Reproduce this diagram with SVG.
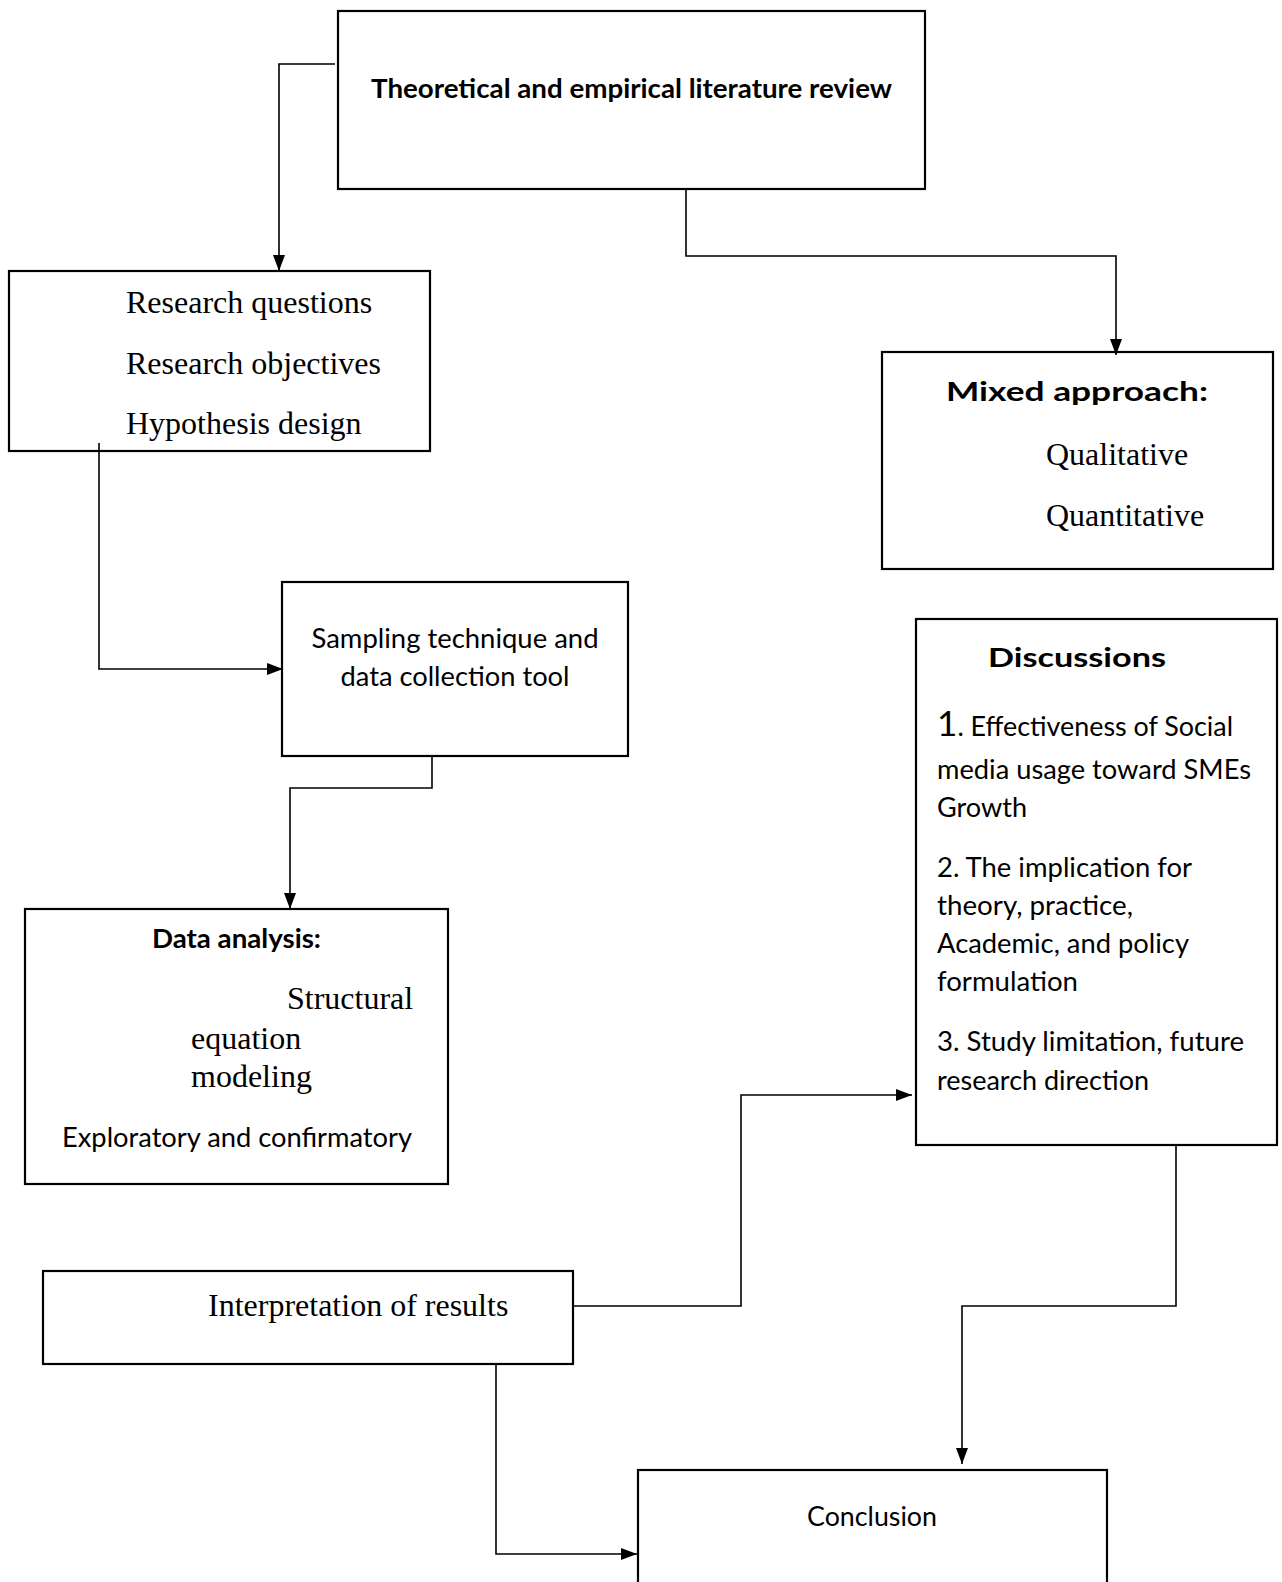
<svg xmlns="http://www.w3.org/2000/svg" width="1282" height="1582" viewBox="0 0 1282 1582">
<style>
.box{fill:#fff;stroke:#000;stroke-width:2.2}
.con{fill:none;stroke:#000;stroke-width:1.6}
.serif{font-family:"Liberation Serif","Times New Roman",serif;font-size:32px;fill:#000}
.sans{font-family:Lato,"Open Sans",sans-serif;font-size:26px;fill:#000}
.bold{font-weight:bold}
</style>
<defs>
<marker id="arr" viewBox="0 0 16 12" refX="16" refY="6" markerWidth="16" markerHeight="12" markerUnits="userSpaceOnUse" orient="auto">
<path d="M0,0 L16,6 L0,12 Z" fill="#000"/>
</marker>
</defs>
<rect width="1282" height="1582" fill="#fff"/>
<g id="lit-review">
<rect class="box" x="338" y="11" width="587" height="178"/>
<text class="sans bold" x="371" y="98" font-size="24" textLength="521" lengthAdjust="spacingAndGlyphs">Theoretical and empirical literature review</text>
</g>
<g id="research">
<rect class="box" x="9" y="271" width="421" height="180"/>
<text class="serif" x="126" y="313">Research questions</text>
<text class="serif" x="126" y="374">Research objectives</text>
<text class="serif" x="126" y="434">Hypothesis design</text>
</g>
<g id="mixed">
<rect class="box" x="882" y="352" width="391" height="217"/>
<text class="sans bold" x="946" y="401" font-size="34" textLength="262" lengthAdjust="spacingAndGlyphs">Mixed approach:</text>
<text class="serif" x="1046" y="465">Qualitative</text>
<text class="serif" x="1046" y="526">Quantitative</text>
</g>
<g id="sampling">
<rect class="box" x="282" y="582" width="346" height="174"/>
<text class="sans" x="455" y="648" text-anchor="middle" textLength="287" lengthAdjust="spacingAndGlyphs">Sampling technique and</text>
<text class="sans" x="455" y="686" text-anchor="middle" textLength="229" lengthAdjust="spacingAndGlyphs">data collection tool</text>
</g>
<g id="data-analysis">
<rect class="box" x="25" y="909" width="423" height="275"/>
<text class="sans bold" x="152" y="948" font-size="24" textLength="169" lengthAdjust="spacingAndGlyphs">Data analysis:</text>
<text class="serif" x="287" y="1009">Structural</text>
<text class="serif" x="191" y="1049">equation</text>
<text class="serif" x="191" y="1087">modeling</text>
<text class="sans" x="62" y="1147" textLength="350" lengthAdjust="spacingAndGlyphs">Exploratory and confirmatory</text>
</g>
<g id="discussions">
<rect class="box" x="916" y="619" width="361" height="526"/>
<text class="sans bold" x="988" y="667" font-size="34" textLength="178" lengthAdjust="spacingAndGlyphs">Discussions</text>
<text class="sans" x="937" y="736" textLength="296" lengthAdjust="spacingAndGlyphs"><tspan font-size="34">1</tspan>. Effectiveness of Social</text>
<text class="sans" x="937" y="779" textLength="314" lengthAdjust="spacingAndGlyphs">media usage toward SMEs</text>
<text class="sans" x="937" y="817" textLength="90" lengthAdjust="spacingAndGlyphs">Growth</text>
<text class="sans" x="937" y="877" textLength="255" lengthAdjust="spacingAndGlyphs">2. The implication for</text>
<text class="sans" x="937" y="915" textLength="196" lengthAdjust="spacingAndGlyphs">theory, practice,</text>
<text class="sans" x="937" y="953" textLength="252" lengthAdjust="spacingAndGlyphs">Academic, and policy</text>
<text class="sans" x="937" y="991" textLength="141" lengthAdjust="spacingAndGlyphs">formulation</text>
<text class="sans" x="937" y="1051" textLength="307" lengthAdjust="spacingAndGlyphs">3. Study limitation, future</text>
<text class="sans" x="937" y="1090" textLength="212" lengthAdjust="spacingAndGlyphs">research direction</text>
</g>
<g id="interpretation">
<rect class="box" x="43" y="1271" width="530" height="93"/>
<text class="serif" x="208" y="1316">Interpretation of results</text>
</g>
<g id="conclusion">
<rect class="box" x="638" y="1470" width="469" height="130"/>
<text class="sans" x="807" y="1526" textLength="130" lengthAdjust="spacingAndGlyphs">Conclusion</text>
</g>
<g id="connectors">
<path class="con" d="M335,64 H279 V271" marker-end="url(#arr)"/>
<path class="con" d="M686,190 V256 H1116 V355" marker-end="url(#arr)"/>
<path class="con" d="M99,443 V669 H283" marker-end="url(#arr)"/>
<path class="con" d="M432,757 V788 H290 V909" marker-end="url(#arr)"/>
<path class="con" d="M573,1306 H741 V1095 H912" marker-end="url(#arr)"/>
<path class="con" d="M1176,1146 V1306 H962 V1464" marker-end="url(#arr)"/>
<path class="con" d="M496,1365 V1554 H637" marker-end="url(#arr)"/>
</g>
</svg>
